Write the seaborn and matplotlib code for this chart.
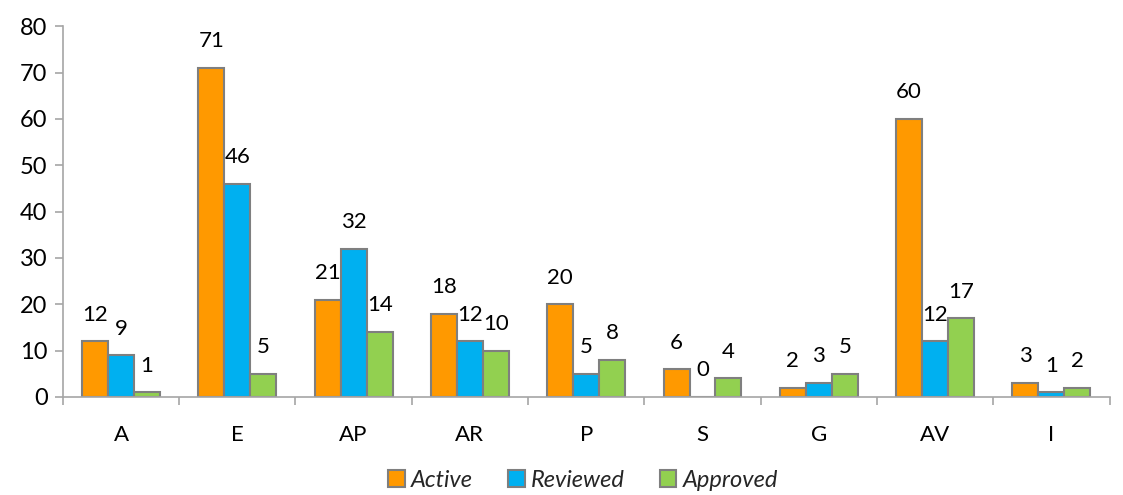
import matplotlib
matplotlib.use("Agg")
import matplotlib.pyplot as plt
import seaborn as sns
import pandas as pd
from matplotlib.ticker import FixedLocator, MultipleLocator

categories = ["A", "E", "AP", "AR", "P", "S", "G", "AV", "I"]
active = [12, 71, 21, 18, 20, 6, 2, 60, 3]
reviewed = [9, 46, 32, 12, 5, 0, 3, 12, 1]
approved = [1, 5, 14, 10, 8, 4, 5, 17, 2]
series_names = ["Active", "Reviewed", "Approved"]
colors = ["#FF9900", "#00B0F0", "#92D050"]

rows = []
for name, vals in zip(series_names, [active, reviewed, approved]):
    for c, v in zip(categories, vals):
        rows.append({"category": c, "series": name, "value": v})
df = pd.DataFrame(rows)

sns.set_theme(style="white")
plt.rcParams["font.family"] = ["Lato", "DejaVu Sans"]

fig = plt.figure(figsize=(11.23, 4.95), dpi=100)
ax = fig.add_axes([0.056, 0.198, 0.932, 0.749])

sns.barplot(data=df, x="category", y="value", hue="series", order=categories,
            hue_order=series_names, palette=colors, saturation=1, width=0.67,
            dodge=True, edgecolor="#7f7f7f", linewidth=1.5, ax=ax, legend=True,
            errorbar=None)

for cont in ax.containers:
    ax.bar_label(cont, fmt="%g", padding=12, fontsize=16, color="#000000")

ax.set_ylim(0, 80)
ax.set_xlim(-0.5, len(categories) - 0.5)
ax.yaxis.set_major_locator(MultipleLocator(10))
ax.set_xlabel("")
ax.set_ylabel("")

for s in ["top", "right"]:
    ax.spines[s].set_visible(False)
for s in ["left", "bottom"]:
    ax.spines[s].set_color("#a6a6a6")
    ax.spines[s].set_linewidth(1.2)

ax.tick_params(axis="y", which="major", direction="out", length=6, width=1.2,
               color="#a6a6a6", labelsize=17, labelcolor="#000000", left=True, pad=5)
ax.tick_params(axis="x", which="major", length=0, labelsize=16, labelcolor="#000000", pad=20)
ax.xaxis.set_minor_locator(FixedLocator([i + 0.5 for i in range(-1, len(categories))]))
ax.tick_params(axis="x", which="minor", direction="out", length=6, width=1.2,
               color="#a6a6a6", bottom=True)

leg = ax.legend(loc="center", bbox_to_anchor=(0.497, -0.225), ncol=3, frameon=False,
                handlelength=0.7, handleheight=0.7, handletextpad=0.25,
                columnspacing=1.5, borderpad=0.2, prop={"size": 17, "style": "italic"})
for h in leg.legend_handles:
    h.set_edgecolor("#7f7f7f")
    h.set_linewidth(1.5)

fig.savefig("out.png", dpi=100)
